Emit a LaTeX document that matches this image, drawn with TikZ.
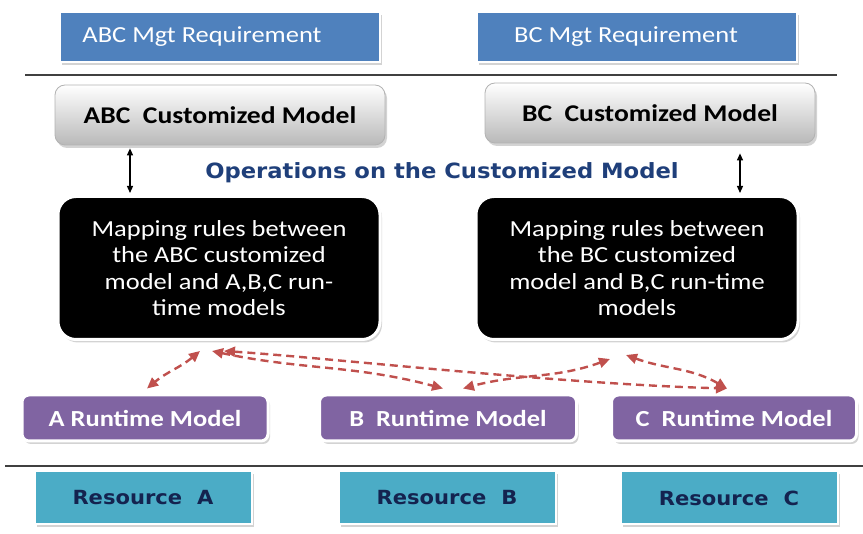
\documentclass[tikz,border=0pt]{standalone}
\usepackage{fontspec}
\setmainfont{Carlito}
\newfontfamily\widefont[FakeStretch=1.15]{Carlito}
\newfontfamily\heavyfont[FakeStretch=1.08]{DejaVu Sans}
\usetikzlibrary{shadows,arrows.meta,calc}
\definecolor{reqblue}{HTML}{4F81BD}
\definecolor{rtpurple}{HTML}{8064A2}
\definecolor{restea}{HTML}{4BACC6}
\definecolor{opsblue}{HTML}{1F3F7A}
\definecolor{resnavy}{HTML}{14234F}
\definecolor{linkred}{HTML}{C0504D}
\definecolor{rulegray}{HTML}{404040}

\begin{document}
\begin{tikzpicture}[x=1pt,y=-1pt,
  softshadow/.style={drop shadow={shadow xshift=2pt,shadow yshift=-3pt,opacity=0.35,fill=gray}},
  reqbox/.style={rectangle,fill=reqblue,draw=white,line width=2pt,minimum width=320pt,minimum height=50pt,
    text=white,font=\widefont\fontsize{23}{26}\selectfont,softshadow},
  custbox/.style={rectangle,rounded corners=10pt,top color=white,bottom color=gray!55,draw=gray!60,line width=0.8pt,
    minimum width=330pt,minimum height=60pt,font=\widefont\bfseries\fontsize{24}{27}\selectfont,softshadow},
  mapbox/.style={rectangle,rounded corners=18pt,fill=black,draw=white,line width=3pt,
    minimum width=322pt,minimum height=143pt,text=white,align=center,
    font=\widefont\fontsize{23}{26.5}\selectfont,softshadow},
  rtbox/.style={rectangle,rounded corners=7pt,fill=rtpurple,draw=white,line width=3pt,
    minimum height=46pt,text=white,font=\widefont\bfseries\fontsize{23}{26}\selectfont,softshadow},
  resbox/.style={rectangle,fill=restea,draw=white,line width=2pt,minimum width=217pt,minimum height=53pt,
    text=resnavy,font=\heavyfont\bfseries\fontsize{19.5}{23}\selectfont,softshadow},
  vlink/.style={{Triangle[length=7pt,width=6pt]}-{Triangle[length=7pt,width=6pt]},line width=1.2pt,black},
  dlink/.style={{Triangle[length=11pt,width=10pt]}-{Triangle[length=11pt,width=10pt]},linkred,
    dash pattern=on 8pt off 5pt,line width=2.4pt},
  rule/.style={rulegray,line width=1.5pt}
]
\useasboundingbox (0,0) rectangle (863,534);

% dividing rules
\coordinate (topL) at (25,75);
\coordinate (topR) at (837,75);
\coordinate (botL) at (5,466);
\coordinate (botR) at (863,466);
\draw[rule] (topL) -- (topR);
\draw[rule] (botL) -- (botR);

% management requirements
\node[reqbox] (reqabc) at (220,37) {\hspace*{-36pt}ABC Mgt Requirement};
\node[reqbox] (reqbc) at (637,37) {\hspace*{-22pt}BC Mgt Requirement};

% customized models
\node[custbox] (custabc) at (220,115) {ABC\ \ Customized Model};
\node[custbox] (custbc) at (650,113) {BC\ \ Customized Model};

\node[font=\heavyfont\bfseries\fontsize{21}{24}\selectfont,text=opsblue] (ops) at (442,173) {Operations on the Customized Model};

% mapping rules
\node[mapbox] (mapabc) at (219,268) {Mapping rules between\\the ABC customized\\model and A,B,C run-\\time models};
\node[mapbox] (mapbc) at (637,268) {Mapping rules between\\the BC customized\\model and B,C run-time\\models};

% runtime models
\node[rtbox,minimum width=246pt] (rta) at (145,418) {A Runtime Model};
\node[rtbox,minimum width=257pt] (rtb) at (448,418) {B\ \ Runtime Model};
\node[rtbox,minimum width=245pt] (rtc) at (734,418) {C\ \ Runtime Model};

% resources
\node[resbox] (resa) at (143,498) {Resource\hspace{15pt}A};
\node[resbox] (resb) at (447,498) {Resource\hspace{15pt}B};
\node[resbox] (resc) at (729,498) {Resource\hspace{15pt}C};

% customized model <-> mapping rules
\draw[vlink] ([xshift=-90pt,yshift=-3pt]custabc.south) -- ([xshift=-89pt,yshift=2pt]mapabc.north);
\draw[vlink] ([xshift=90pt,yshift=-10pt]custbc.south) -- ([xshift=103pt,yshift=2pt]mapbc.north);

% mapping rules <-> runtime models
\draw[dlink] ([xshift=-19pt,yshift=-10pt]mapabc.south) to[out=-140,in=40] ([xshift=2pt,yshift=5pt]rta.north);
\draw[dlink] ([xshift=-7pt,yshift=-10pt]mapabc.south) to[out=-12,in=165] ([xshift=-5pt,yshift=5pt]rtb.north);
\draw[dlink] ([xshift=5pt,yshift=-10pt]mapabc.south) .. controls (330,358) and (560,384) .. ([xshift=-7pt,yshift=5pt]rtc.north);
\draw[dlink] ([xshift=-27pt,yshift=-18pt]mapbc.south) to[out=200,in=15] ([xshift=15pt,yshift=5pt]rtb.north);
\draw[dlink] ([xshift=-11pt,yshift=-14pt]mapbc.south) to[out=-20,in=150] ([xshift=-7pt,yshift=5pt]rtc.north);
\end{tikzpicture}
\end{document}
